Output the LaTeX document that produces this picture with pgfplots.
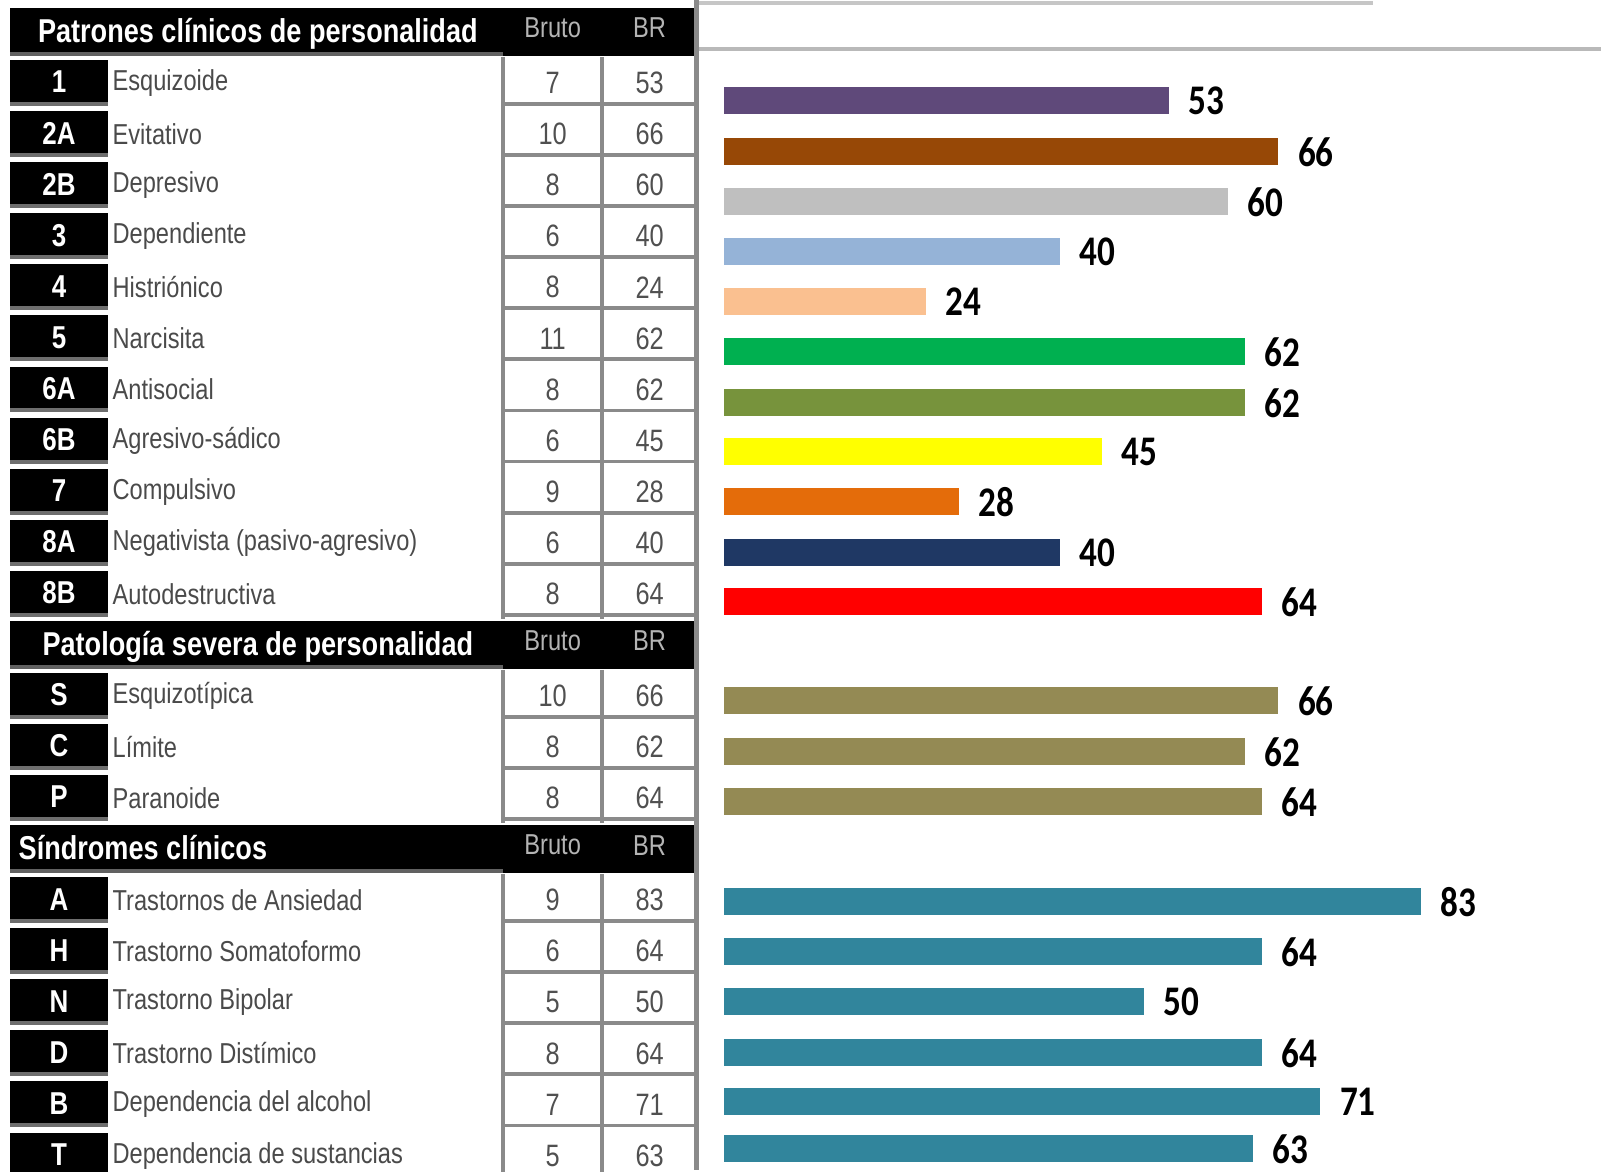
\documentclass[border=0pt]{standalone}
\usepackage{pgfplots}
\pgfplotsset{compat=1.18}
\usepackage{fontspec}
\setmainfont{Liberation Sans}
\newfontfamily\narrow[FakeStretch=0.82]{Liberation Sans}
\newfontfamily\carlito{Carlito}
\definecolor{txtgray}{HTML}{4A4A4A}
\definecolor{numgray}{HTML}{505050}
\definecolor{gridgray}{HTML}{8A8A8A}
\definecolor{hdrgray}{HTML}{B4B4B4}
\definecolor{c1}{HTML}{5F497A}
\definecolor{c2A}{HTML}{974806}
\definecolor{c2B}{HTML}{BFBFBF}
\definecolor{c3}{HTML}{95B3D7}
\definecolor{c4}{HTML}{FAC090}
\definecolor{c5}{HTML}{00B050}
\definecolor{c6A}{HTML}{77933C}
\definecolor{c6B}{HTML}{FFFF00}
\definecolor{c7}{HTML}{E46C0A}
\definecolor{c8A}{HTML}{1F3864}
\definecolor{c8B}{HTML}{FF0000}
\definecolor{csev}{HTML}{948A54}
\definecolor{cclin}{HTML}{31859C}

\newcommand{\tabfont}{\narrow\fontsize{8.2}{9}\selectfont}
\newcommand{\numfont}{\narrow\fontsize{8.8}{10}\selectfont}
\newcommand{\codefont}{\narrow\bfseries\fontsize{9}{10}\selectfont}
\newcommand{\hdrfont}{\narrow\bfseries\fontsize{9.4}{10}\selectfont}

% #1 slot, #2 code, #3 name, #4 bruto, #5 BR
\newcommand{\trow}[5]{%
  \pgfmathsetmacro\t{6+51.1*#1}%
  \fill[black] (10,\t+3) rectangle (108,\t+45);
  \fill[gridgray!80!black] (10,\t+45) rectangle (108,\t+49);
  \node[text=white, font=\codefont, inner sep=0pt] at (59,\t+25) {#2};
  \node[anchor=west, text=txtgray, font=\tabfont, inner sep=0pt] at (112,\t+26) {#3};
  \node[text=numgray, font=\numfont, inner sep=0pt] at (553,\t+26) {#4};
  \node[text=numgray, font=\numfont, inner sep=0pt] at (650,\t+26) {#5};
  \draw[gridgray, line width=1.1pt] (503,\t+47) -- (697,\t+47);
  \draw[gridgray, line width=1.1pt] (503,\t) -- (503,\t+51.1);
  \draw[gridgray, line width=1.1pt] (602,\t) -- (602,\t+51.1);
}
% #1 slot, #2 title node options, #3 title
\newcommand{\thead}[3]{%
  \pgfmathsetmacro\t{6+51.1*#1}%
  \fill[black] (10,\t+2) rectangle (697,\t+50);
  \fill[gridgray!70!black] (10,\t+46) rectangle (503,\t+50);
  \node[text=white, font=\hdrfont, inner sep=0pt, #2] {#3};
  \node[text=hdrgray, font=\tabfont, inner sep=0pt] at (553,\t+22) {Bruto};
  \node[text=hdrgray, font=\tabfont, inner sep=0pt] at (650,\t+22) {BR};
}

\begin{document}
\begin{tikzpicture}
\useasboundingbox (0,0) rectangle (16.02cm,-11.71cm);
\begin{scope}[x=0.01cm, y=-0.01cm]
  % top frame remnants
  \draw[gray!45, line width=1.4pt] (698,3) -- (1374,3);
  \draw[gray!55, line width=1.1pt] (698,49) -- (1602,49);
  % rows
  \trow{1}{1}{Esquizoide}{7}{53}
  \trow{2}{2A}{Evitativo}{10}{66}
  \trow{3}{2B}{Depresivo}{8}{60}
  \trow{4}{3}{Dependiente}{6}{40}
  \trow{5}{4}{Histriónico}{8}{24}
  \trow{6}{5}{Narcisita}{11}{62}
  \trow{7}{6A}{Antisocial}{8}{62}
  \trow{8}{6B}{Agresivo-sádico}{6}{45}
  \trow{9}{7}{Compulsivo}{9}{28}
  \trow{10}{8A}{Negativista (pasivo-agresivo)}{6}{40}
  \trow{11}{8B}{Autodestructiva}{8}{64}
  \trow{13}{S}{Esquizotípica}{10}{66}
  \trow{14}{C}{Límite}{8}{62}
  \trow{15}{P}{Paranoide}{8}{64}
  \trow{17}{A}{Trastornos de Ansiedad}{9}{83}
  \trow{18}{H}{Trastorno Somatoformo}{6}{64}
  \trow{19}{N}{Trastorno Bipolar}{5}{50}
  \trow{20}{D}{Trastorno Distímico}{8}{64}
  \trow{21}{B}{Dependencia del alcohol}{7}{71}
  \trow{22}{T}{Dependencia de sustancias}{5}{63}
  % headers
  \thead{0}{at={(258,34)}}{Patrones clínicos de personalidad}
  \thead{12}{at={(258,647)}}{Patología severa de personalidad}
  \thead{16}{anchor=west, at={(18,848)}}{Síndromes clínicos}
  % right border of table
  \draw[gridgray, line width=1.2pt] (697,0) -- (697,1171);
\end{scope}

\begin{axis}[
  at={(0cm,-11.71cm)}, anchor=south west,
  scale only axis, width=16.02cm, height=11.71cm,
  xmin=-86.19, xmax=104.52, ymin=-1171, ymax=0,
  hide axis, clip=false,
  point meta=x,
  /pgf/number format/assume math mode=true,
  nodes near coords={\scalebox{1}[1.2]{\pgfmathprintnumber{\pgfplotspointmeta}}},
  nodes near coords style={anchor=west, inner sep=0pt, xshift=0.19cm, yshift=-0.01cm,
     font=\carlito\bfseries\fontsize{10}{11}\selectfont, text=black},
  every axis plot/.append style={xbar, bar shift=0pt, bar width=0.27cm, draw=none},
]
\addplot[fill=c1, xbar, bar shift=0pt] coordinates {(53,-100)};
\addplot[fill=c2A, xbar, bar shift=0pt] coordinates {(66,-151)};
\addplot[fill=c2B, xbar, bar shift=0pt] coordinates {(60,-201)};
\addplot[fill=c3, xbar, bar shift=0pt] coordinates {(40,-251)};
\addplot[fill=c4, xbar, bar shift=0pt] coordinates {(24,-301)};
\addplot[fill=c5, xbar, bar shift=0pt] coordinates {(62,-351)};
\addplot[fill=c6A, xbar, bar shift=0pt] coordinates {(62,-402)};
\addplot[fill=c6B, xbar, bar shift=0pt] coordinates {(45,-451)};
\addplot[fill=c7, xbar, bar shift=0pt] coordinates {(28,-501)};
\addplot[fill=c8A, xbar, bar shift=0pt] coordinates {(40,-552)};
\addplot[fill=c8B, xbar, bar shift=0pt] coordinates {(64,-601)};
\addplot[fill=csev, xbar, bar shift=0pt] coordinates {(66,-700)};
\addplot[fill=csev, xbar, bar shift=0pt] coordinates {(62,-751)};
\addplot[fill=csev, xbar, bar shift=0pt] coordinates {(64,-801)};
\addplot[fill=cclin, xbar, bar shift=0pt] coordinates {(83,-901)};
\addplot[fill=cclin, xbar, bar shift=0pt] coordinates {(64,-951)};
\addplot[fill=cclin, xbar, bar shift=0pt] coordinates {(50,-1001)};
\addplot[fill=cclin, xbar, bar shift=0pt] coordinates {(64,-1052)};
\addplot[fill=cclin, xbar, bar shift=0pt] coordinates {(71,-1101)};
\addplot[fill=cclin, xbar, bar shift=0pt] coordinates {(63,-1148)};
\end{axis}
\end{tikzpicture}
\end{document}
